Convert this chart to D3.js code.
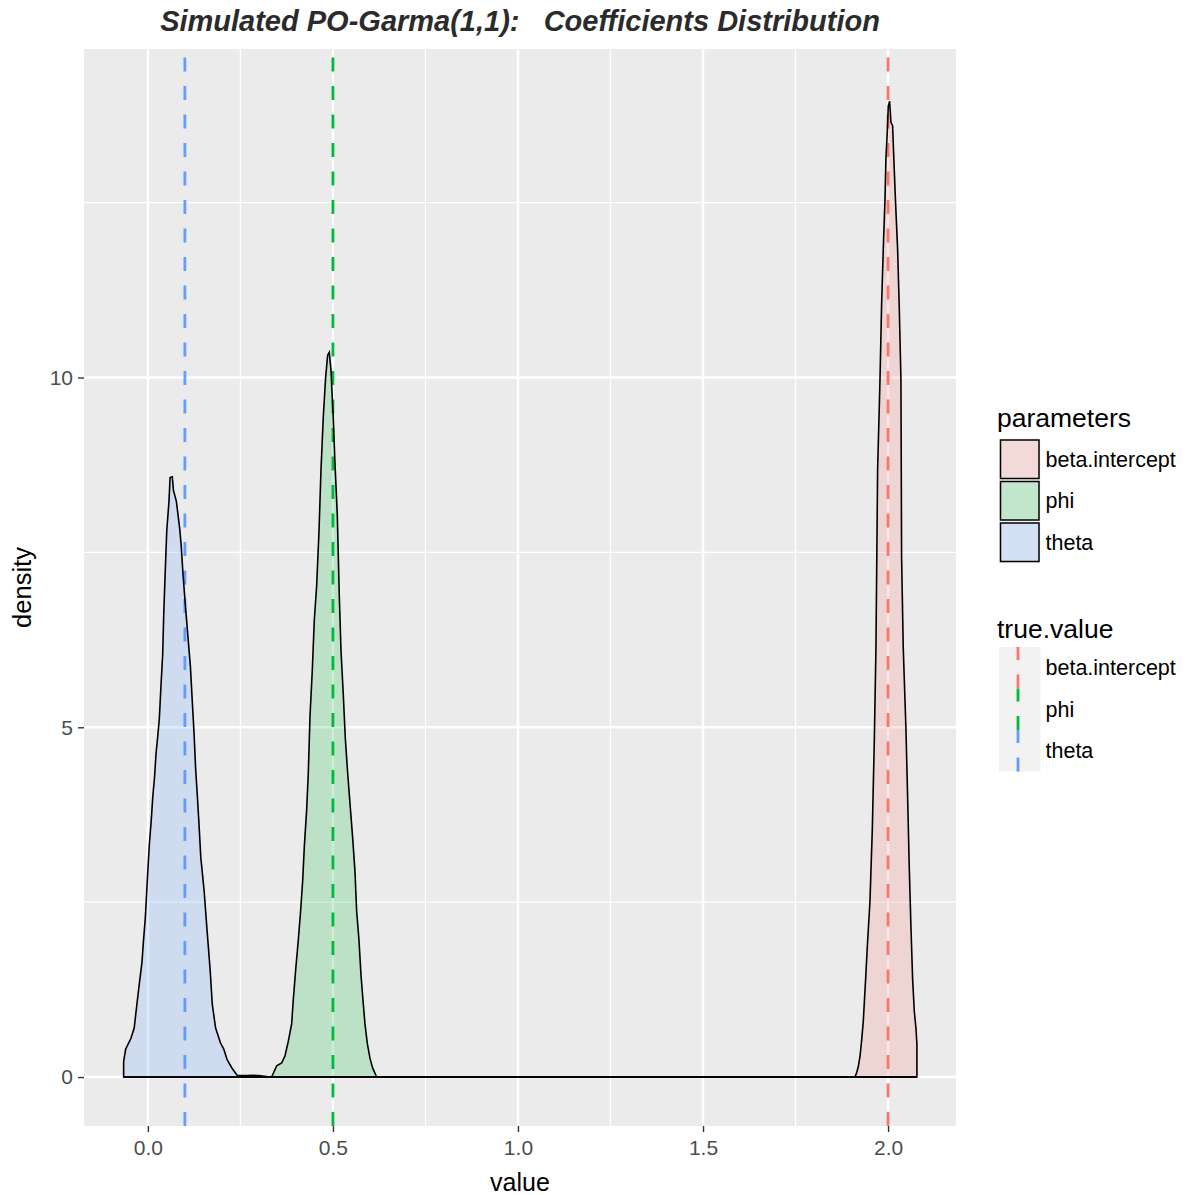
<!DOCTYPE html>
<html>
<head>
<meta charset="utf-8">
<script src="https://cdn.jsdelivr.net/npm/d3@7"></script>
<style>
  body { margin: 0; background: #fff; }
  text { font-family: "Liberation Sans", Arial, sans-serif; }
</style>
</head>
<body>
<svg id="chart" width="1191" height="1195"></svg>
<script>
// parameters and their true values
var parameters = ['beta.intercept', 'phi', 'theta'];
var trueValues = [2.0, 0.5, 0.1];
var colours = ['#F8766D', '#00BA38', '#619CFF'];

// density estimates, [value, density]
var betaCurve = [
  [-0.0655, 0], [1.9106, 0], [1.9151, 0.06], [1.9196, 0.15], [1.9241, 0.29], [1.9286, 0.52],
  [1.9331, 0.80], [1.9394, 1.40], [1.9439, 1.86], [1.9511, 2.51], [1.9574, 3.53], [1.9628, 4.79],
  [1.9673, 6.13], [1.9718, 8.68], [1.9781, 9.94], [1.9826, 11.05], [1.9871, 11.84], [1.9916, 12.53],
  [1.9943, 13.14], [1.9979, 13.51], [2.0006, 13.88], [2.0042, 13.95], [2.0078, 13.65], [2.0123, 13.60],
  [2.0159, 13.09], [2.0204, 12.49], [2.0258, 11.84], [2.0303, 11.0], [2.0348, 9.98], [2.0366, 7.43],
  [2.0411, 6.13], [2.0484, 4.97], [2.0529, 4.0], [2.0574, 2.98], [2.0619, 2.14], [2.0664, 1.40],
  [2.0709, 0.94], [2.0754, 0.70], [2.078, 0.47], [2.078, 0]
];
var phiCurve = [
  [-0.0655, 0], [0.27, 0], [0.275, 0.02], [0.29, 0.02], [0.295, 0], [0.3344, 0], [0.348, 0.16],
  [0.3614, 0.20], [0.3704, 0.30], [0.3794, 0.51], [0.3885, 0.76], [0.393, 1.11], [0.3993, 1.53],
  [0.4065, 1.96], [0.4128, 2.38], [0.4182, 2.80], [0.4227, 3.29], [0.429, 3.82], [0.4335, 4.35],
  [0.438, 5.15], [0.4443, 5.82], [0.4497, 6.53], [0.456, 7.02], [0.4623, 7.79], [0.4677, 8.67],
  [0.474, 9.44], [0.4803, 10.0], [0.4857, 10.32], [0.4902, 10.36], [0.4947, 10.11], [0.501, 9.41],
  [0.5055, 8.78], [0.5118, 8.04], [0.5172, 6.88], [0.5218, 6.10], [0.528, 5.47], [0.5335, 4.84],
  [0.5398, 4.35], [0.546, 3.92], [0.5532, 3.43], [0.5596, 2.94], [0.564, 2.38], [0.5704, 1.96],
  [0.5758, 1.46], [0.5821, 1.04], [0.5866, 0.76], [0.5929, 0.48], [0.6001, 0.27], [0.6073, 0.13],
  [0.6181, 0], [2.078, 0]
];
var thetaCurve = [
  [-0.0655, 0], [-0.0655, 0.22], [-0.060, 0.40], [-0.046, 0.55], [-0.037, 0.70], [-0.031, 0.98],
  [-0.023, 1.34], [-0.016, 1.64], [-0.012, 1.94], [-0.007, 2.27], [0.000, 2.96], [0.004, 3.33],
  [0.009, 3.66], [0.013, 3.99], [0.018, 4.29], [0.022, 4.62], [0.027, 4.89], [0.031, 5.13],
  [0.035, 5.55], [0.040, 6.04], [0.043, 6.64], [0.047, 7.24], [0.051, 7.81], [0.057, 8.23],
  [0.060, 8.57], [0.066, 8.58], [0.069, 8.39], [0.077, 8.23], [0.086, 7.84], [0.090, 7.60],
  [0.095, 7.18], [0.102, 6.70], [0.108, 6.31], [0.115, 5.86], [0.120, 5.37], [0.125, 4.89],
  [0.129, 4.41], [0.134, 3.99], [0.138, 3.63], [0.143, 3.14], [0.152, 2.66], [0.160, 2.09],
  [0.168, 1.55], [0.174, 1.04], [0.183, 0.70], [0.196, 0.49], [0.205, 0.40], [0.214, 0.25],
  [0.227, 0.13], [0.242, 0.02], [0.30, 0.02], [0.33, 0], [2.078, 0]
];
var curves = [betaCurve, phiCurve, thetaCurve];

var xTicks = [0, 0.5, 1, 1.5, 2];
var xMinor = [0.25, 0.75, 1.25, 1.75];
var yTicks = [0, 5, 10];
var yMinor = [2.5, 7.5, 12.5];

var panel = {left: 84, right: 956, top: 49, bottom: 1126};

var svg = d3.select('#chart');

var x = d3.scaleLinear().domain([-0.1726, 2.1836]).range([panel.left, panel.right]);
var y = d3.scaleLinear().domain([-0.7, 14.697]).range([panel.bottom, panel.top]);

// panel background and grid
svg.append('rect')
    .attr('x', panel.left).attr('y', panel.top)
    .attr('width', panel.right - panel.left).attr('height', panel.bottom - panel.top)
    .attr('fill', '#EBEBEB');

var grid = svg.append('g');
grid.selectAll('.xminor').data(xMinor).enter().append('line')
    .attr('x1', x).attr('x2', x).attr('y1', panel.top).attr('y2', panel.bottom)
    .attr('stroke', '#fff').attr('stroke-width', 1.2);
grid.selectAll('.yminor').data(yMinor).enter().append('line')
    .attr('x1', panel.left).attr('x2', panel.right).attr('y1', y).attr('y2', y)
    .attr('stroke', '#fff').attr('stroke-width', 1.2);
grid.selectAll('.xmajor').data(xTicks).enter().append('line')
    .attr('x1', x).attr('x2', x).attr('y1', panel.top).attr('y2', panel.bottom)
    .attr('stroke', '#fff').attr('stroke-width', 2.4);
grid.selectAll('.ymajor').data(yTicks).enter().append('line')
    .attr('x1', panel.left).attr('x2', panel.right).attr('y1', y).attr('y2', y)
    .attr('stroke', '#fff').attr('stroke-width', 2.4);

// true value lines
svg.selectAll('.vline').data(trueValues).enter().append('line')
    .attr('x1', x).attr('x2', x)
    .attr('y1', panel.bottom).attr('y2', panel.top)
    .attr('stroke', function(d, i) { return colours[i]; })
    .attr('stroke-width', 2.8)
    .attr('stroke-dasharray', '14,14.5');

// densities
var line = d3.line()
    .x(function(d) { return x(d[0]); })
    .y(function(d) { return y(d[1]); });

svg.selectAll('.density').data(curves).enter().append('path')
    .attr('d', function(d) { return line(d) + 'Z'; })
    .attr('fill', function(d, i) { return colours[i]; })
    .attr('fill-opacity', 0.2)
    .attr('stroke', '#000')
    .attr('stroke-width', 1.6)
    .attr('stroke-linejoin', 'miter');

// axes
var xAxis = svg.append('g')
    .attr('transform', 'translate(0,' + panel.bottom + ')')
    .call(d3.axisBottom(x).tickValues(xTicks).tickFormat(d3.format('.1f')).tickSize(6).tickPadding(8));
var yAxis = svg.append('g')
    .attr('transform', 'translate(' + panel.left + ',0)')
    .call(d3.axisLeft(y).tickValues(yTicks).tickFormat(d3.format('d')).tickSize(6).tickPadding(5));

[xAxis, yAxis].forEach(function(a) {
    a.select('.domain').remove();
    a.selectAll('.tick line').attr('stroke', '#333').attr('stroke-width', 1.4);
    a.selectAll('.tick text')
        .attr('fill', '#4D4D4D')
        .style('font-size', '21px')
        .style('font-family', '"Liberation Sans", Arial, sans-serif');
});

svg.append('text')
    .attr('x', (panel.left + panel.right) / 2).attr('y', 1191)
    .attr('text-anchor', 'middle')
    .style('font-size', '25px')
    .text('value');

svg.append('text')
    .attr('transform', 'translate(31,' + ((panel.top + panel.bottom) / 2) + ') rotate(-90)')
    .attr('text-anchor', 'middle')
    .style('font-size', '25.5px')
    .text('density');

svg.append('text')
    .attr('x', (panel.left + panel.right) / 2).attr('y', 31)
    .attr('text-anchor', 'middle')
    .style('font-size', '29px')
    .style('font-weight', 'bold')
    .style('font-style', 'italic')
    .style('white-space', 'pre')
    .attr('fill', '#2b2b2b')
    .text('Simulated PO-Garma(1,1):   Coefficients Distribution');

// legends
var keySize = 41.5;
var legend1 = svg.append('g').attr('transform', 'translate(997,0)');
legend1.append('text').attr('x', 0).attr('y', 427).style('font-size', '26.5px').text('parameters');
var rows1 = legend1.selectAll('.row').data(parameters).enter().append('g')
    .attr('transform', function(d, i) { return 'translate(2,' + (438.5 + i * keySize) + ')'; });
rows1.append('rect')
    .attr('width', keySize).attr('height', keySize).attr('fill', '#F2F2F2');
rows1.append('rect')
    .attr('x', 1.5).attr('y', 1.5)
    .attr('width', keySize - 3).attr('height', keySize - 3)
    .attr('fill', function(d, i) { return colours[i]; })
    .attr('fill-opacity', 0.2)
    .attr('stroke', '#000').attr('stroke-width', 1.5);
rows1.append('text')
    .attr('x', keySize + 5).attr('y', keySize / 2).attr('dy', '0.35em')
    .style('font-size', '21.5px')
    .text(function(d) { return d; });

var legend2 = svg.append('g').attr('transform', 'translate(997,0)');
legend2.append('text').attr('x', 0).attr('y', 638).style('font-size', '26.5px').text('true.value');
var rows2 = legend2.selectAll('.row').data(parameters).enter().append('g')
    .attr('transform', function(d, i) { return 'translate(2,' + (647 + i * keySize) + ')'; });
rows2.append('rect')
    .attr('width', keySize).attr('height', keySize).attr('fill', '#F2F2F2');
rows2.append('line')
    .attr('x1', 19).attr('x2', 19).attr('y1', keySize).attr('y2', 0)
    .attr('stroke', function(d, i) { return colours[i]; })
    .attr('stroke-width', 2.8)
    .attr('stroke-dasharray', '14,14.5');
rows2.append('text')
    .attr('x', keySize + 5).attr('y', keySize / 2).attr('dy', '0.35em')
    .style('font-size', '21.5px')
    .text(function(d) { return d; });
</script>
</body>
</html>
